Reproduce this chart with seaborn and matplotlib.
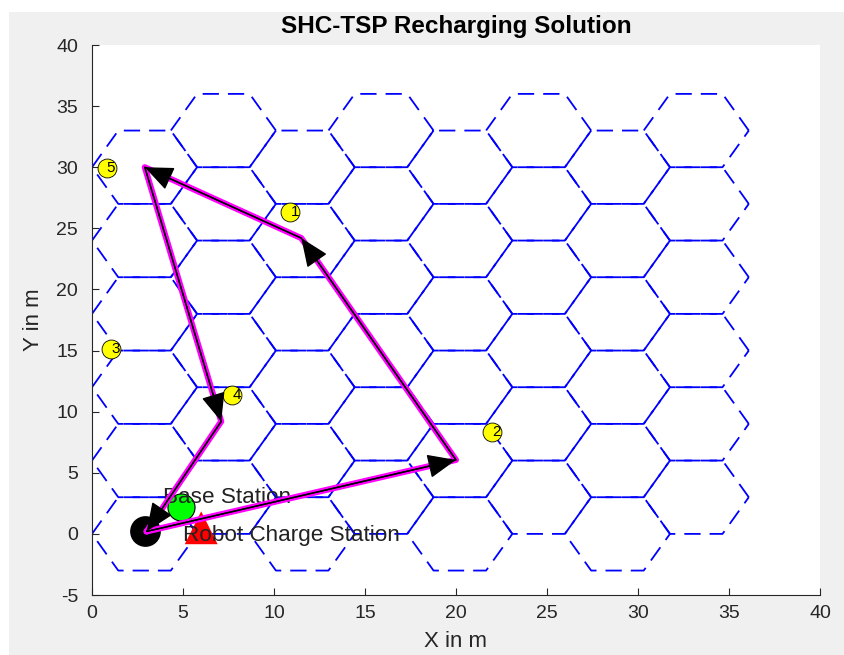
import numpy as np
import pandas as pd
import matplotlib
matplotlib.use("Agg")
import matplotlib.pyplot as plt
from matplotlib.patches import Rectangle
import seaborn as sns

# ---------------- data ----------------
node_labels = ["1", "2", "3", "4", "5"]
node_x = [10.9, 22.0, 1.05, 7.7, 0.8]
node_y = [26.3, 8.3, 15.1, 11.4, 29.9]

path_x = [3.0, 20.0, 11.5, 2.9, 7.1, 3.0]
path_y = [0.2, 6.05, 24.2, 30.0, 9.2, 0.2]

robot_x, robot_y = [2.9], [0.2]
base_x, base_y = [4.9], [2.2]
charge_x, charge_y = [6.0], [0.5]
base_text = ("Base Station", 3.9, 2.95)
charge_text = ("Robot Charge Station", 5.0, -0.1)

# hexagon grid parameters
hex_rx = 2.887          # half width (x)
hex_ry = 3.0            # half height (y)
n_cols = 8
even_row_centers = [0, 6, 12, 18, 24, 30]
odd_row_centers = [3, 9, 15, 21, 27, 33]

xticks = [0, 5, 10, 15, 20, 25, 30, 35, 40]
yticks = [-5, 0, 5, 10, 15, 20, 25, 30, 35, 40]

# ---------------- build hex table ----------------
rows = []
hid = 0
for j in range(n_cols):
    cx = hex_rx + j * 1.5 * hex_rx
    centers = even_row_centers if j % 2 == 0 else odd_row_centers
    for cy in centers:
        vx = [cx + hex_rx, cx + hex_rx / 2, cx - hex_rx / 2, cx - hex_rx,
              cx - hex_rx / 2, cx + hex_rx / 2, cx + hex_rx]
        vy = [cy, cy + hex_ry, cy + hex_ry, cy, cy - hex_ry, cy - hex_ry, cy]
        for k, (a, b) in enumerate(zip(vx, vy)):
            rows.append({"hex": hid, "order": k, "x": a, "y": b})
        hid += 1
hex_df = pd.DataFrame(rows)
path_df = pd.DataFrame({"x": path_x, "y": path_y, "order": range(len(path_x))})
nodes_df = pd.DataFrame({"x": node_x, "y": node_y, "label": node_labels})

# ---------------- plot ----------------
sns.set_style("white")
plt.rcParams["font.family"] = ["Liberation Sans", "DejaVu Sans"]
plt.rcParams["axes.unicode_minus"] = False

fig = plt.figure(figsize=(8.44, 6.55), dpi=100, facecolor="#F0F0F0")
fig.patches.append(Rectangle((0, 1 - 12 / 655), 1, 12 / 655, transform=fig.transFigure,
                             facecolor="white", edgecolor="none", zorder=-10))
fig.patches.append(Rectangle((0, 0), 9 / 844, 1, transform=fig.transFigure,
                             facecolor="white", edgecolor="none", zorder=-10))
ax = fig.add_axes([92 / 844, 1 - 595 / 655, (820 - 92) / 844, (595 - 45) / 655])
ax.set_facecolor("white")

for h, g in hex_df.groupby("hex"):
    ax.plot(g["x"], g["y"], color="#0000FF", lw=1.3, linestyle=(0, (9, 5)), zorder=1)

# markers
sns.scatterplot(data=nodes_df, x="x", y="y", s=185, color="#FFFF00", edgecolor="black",
                linewidth=0.6, zorder=3, ax=ax, legend=False)
for lab, xx, yy in zip(node_labels, node_x, node_y):
    ax.text(xx, yy, lab, fontsize=11, ha="left", va="center", color="black", zorder=4)

sns.scatterplot(x=robot_x, y=robot_y, s=420, color="black", edgecolor="black",
                zorder=3, ax=ax, legend=False)
sns.scatterplot(x=base_x, y=base_y, s=380, color="#00FF00", edgecolor="black",
                linewidth=0.8, zorder=3, ax=ax, legend=False)
sns.scatterplot(x=charge_x, y=charge_y, s=560, marker="^", color="#FF0000", edgecolor="none",
                zorder=3, ax=ax, legend=False)

ax.text(base_text[1], base_text[2], base_text[0], fontsize=16.2, color="#222222",
        ha="left", va="center", zorder=5)
ax.text(charge_text[1], charge_text[2], charge_text[0], fontsize=16.2, color="#222222",
        ha="left", va="center", zorder=5)

# path
sns.lineplot(data=path_df, x="x", y="y", sort=False, estimator=None, color="#FF00FF",
             lw=4.4, zorder=6, ax=ax)
sns.lineplot(data=path_df, x="x", y="y", sort=False, estimator=None, color="black",
             lw=1.0, zorder=7, ax=ax)
for i in range(len(path_x) - 1):
    ax.annotate("", xy=(path_x[i + 1], path_y[i + 1]), xytext=(path_x[i], path_y[i]),
                arrowprops=dict(arrowstyle="-|>,head_length=0.9,head_width=0.38",
                                color="black", lw=1.0, shrinkA=0, shrinkB=0,
                                mutation_scale=20),
                zorder=8)

ax.set_xlim(0, 40)
ax.set_ylim(-5, 40)
ax.set_xticks(xticks)
ax.set_yticks(yticks)
ax.tick_params(direction="in", length=5, width=0.8, colors="#262626", labelsize=14,
               labelcolor="#262626", top=False, right=False, left=True, bottom=True)
ax.tick_params(axis="y", pad=10)
ax.tick_params(axis="x", pad=7)
for s in ["top", "right"]:
    ax.spines[s].set_visible(False)
for s in ["left", "bottom"]:
    ax.spines[s].set_color("#262626")
    ax.spines[s].set_linewidth(0.8)

ax.set_title("SHC-TSP Recharging Solution", fontsize=17.5, fontweight="bold", color="black", pad=9)
ax.set_xlabel("X in m", fontsize=16, color="#262626", labelpad=7)
ax.set_ylabel("Y in m", fontsize=16, color="#262626", labelpad=9)

fig.savefig("out.png", dpi=100, facecolor=fig.get_facecolor())
